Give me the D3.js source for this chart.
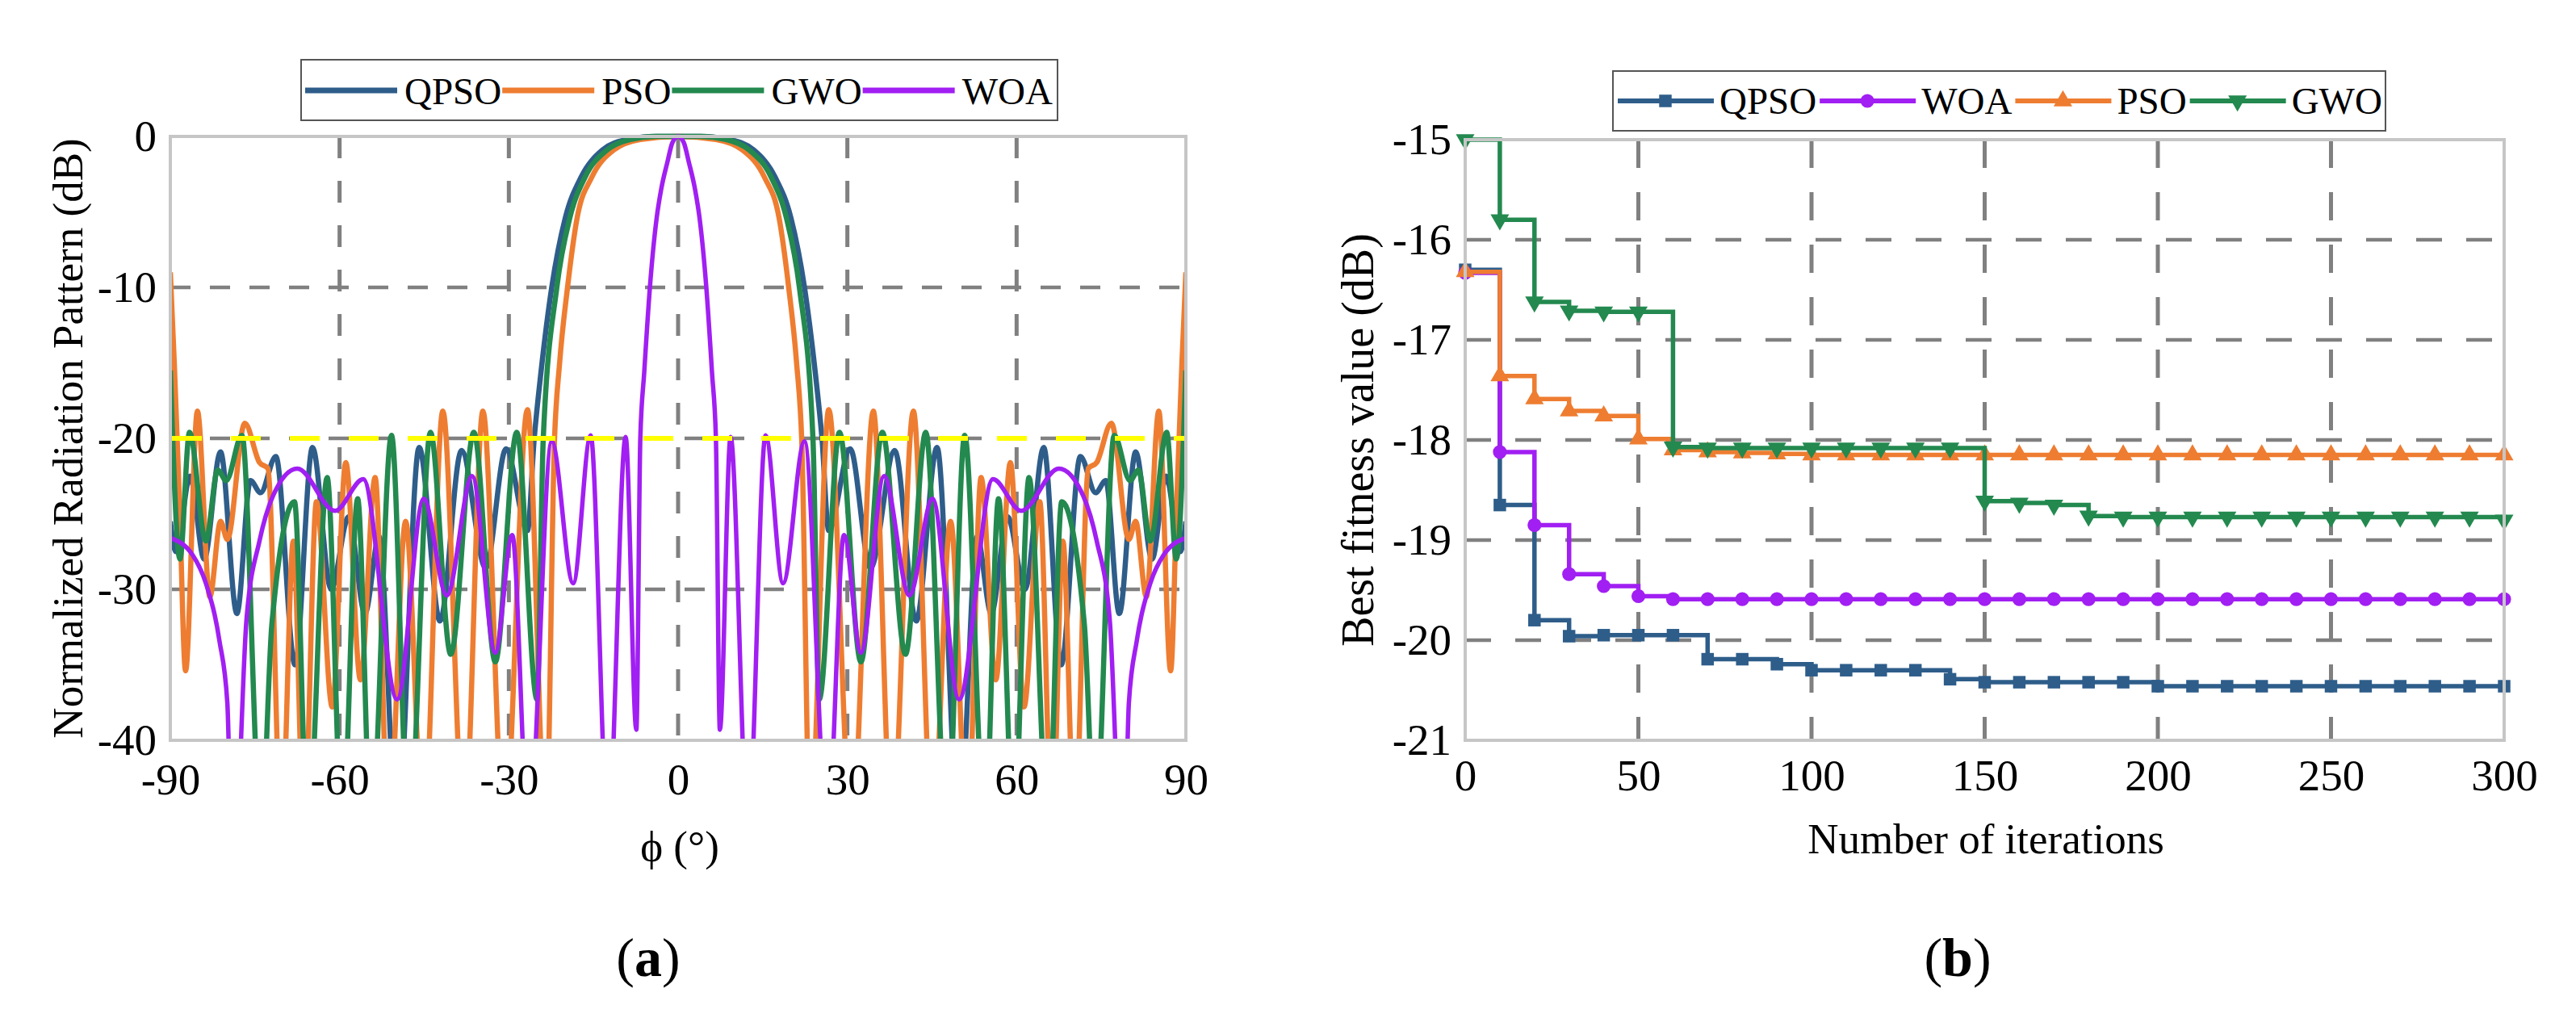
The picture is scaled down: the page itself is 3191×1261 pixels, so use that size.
<!DOCTYPE html>
<html>
<head>
<meta charset="utf-8">
<script src="https://cdn.jsdelivr.net/npm/d3@7"></script>
<style>
body { margin: 0; background: #fff; }
text { font-family: "Liberation Serif", "Times New Roman", serif; fill: #000; }
</style>
</head>
<body>
<div id="figure"></div>
<script>
// ---------- (a) normalized radiation pattern: [phi (deg), level (dB)] ----------
const patternQPSO = [[-90,-25.5],[-89,-27.5],[-86.5,-22.5],[-84,-28],[-81.1,-20.9],[-78.2,-31.6],[-75.8,-22.8],[-74,-23.6],[-71.3,-21.2],[-67.9,-35],[-64.8,-20.6],[-61.5,-30],[-58.4,-25.2],[-55.5,-31.6],[-53,-26.5],[-49.8,-46],[-45.9,-20.6],[-42.2,-32.1],[-38.4,-20.8],[-34.1,-28.6],[-30.5,-20.7],[-26.7,-26.1],[-25.5,-20],[-24.3,-15.6],[-22.4,-10],[-20,-5.4],[-17.2,-2.7],[-13.4,-0.9],[-9,-0.2],[-4,0],[0,0],
  [4,0],[9,-0.2],[13.4,-0.9],[17.2,-2.7],[20,-5.4],[22.4,-10],[24.3,-15.6],[25.5,-20],[26.7,-26.1],[30.5,-20.7],[34.1,-28.6],[38.4,-20.8],[42.2,-32.1],[45.9,-20.6],[49.8,-46],[53,-26.5],[55.5,-31.6],[58.4,-25.2],[61.5,-30],[64.8,-20.6],[67.9,-35],[71.3,-21.2],[74,-23.6],[75.8,-22.8],[78.2,-31.6],[81.1,-20.9],[84,-28],[86.5,-22.5],[89,-27.5],[90,-25.5]];
const patternPSO = [[-90,-9],[-89.3,-15],[-88.4,-24],[-87.3,-35.4],[-85.2,-18.2],[-83,-30.5],[-81.1,-25.5],[-79.9,-26.7],[-76.8,-19],[-74.2,-21.6],[-72.7,-22],[-70.3,-46],[-68.2,-26.8],[-66.3,-46],[-64.1,-24.2],[-61.3,-37.8],[-58.9,-21.6],[-56.3,-36],[-53.7,-22.6],[-51.3,-46],[-48.3,-25.5],[-45.1,-46],[-41.7,-18.2],[-37.9,-46],[-34.6,-18.2],[-30.8,-46],[-26.7,-18.1],[-23.4,-46],[-21.9,-20],[-21,-15],[-19.6,-10],[-17.9,-5.4],[-15.3,-2.7],[-11.4,-0.9],[-6.7,-0.2],[0,0],
  [6.7,-0.2],[11.4,-0.9],[15.3,-2.7],[17.9,-5.4],[19.6,-10],[21,-15],[21.9,-20],[23.4,-46],[26.7,-18.1],[30.8,-46],[34.6,-18.2],[37.9,-46],[41.7,-18.2],[45.1,-46],[48.3,-25.5],[51.3,-46],[53.7,-22.6],[56.3,-36],[58.9,-21.6],[61.3,-37.8],[64.1,-24.2],[66.3,-46],[68.2,-26.8],[70.3,-46],[72.7,-22],[74.2,-21.6],[76.8,-19],[79.9,-26.7],[81.1,-25.5],[83,-30.5],[85.2,-18.2],[87.3,-35.4],[88.4,-24],[89.3,-15],[90,-9]];
const patternGWO = [[-90,-15.5],[-88.3,-28],[-86.6,-19.6],[-83.7,-26.8],[-81.6,-22.1],[-80.1,-22.8],[-77.3,-19.8],[-73.9,-46],[-72,-32.3],[-68,-24.2],[-65.6,-46],[-62.2,-22.6],[-59.5,-46],[-56.8,-24],[-54.4,-46],[-50.8,-19.8],[-47.7,-46],[-43.9,-19.6],[-40.3,-34.3],[-36.2,-19.6],[-32.4,-34.8],[-28.6,-19.6],[-25,-37.3],[-23.9,-20],[-21.5,-10],[-19.2,-5.4],[-16.5,-2.7],[-12.6,-0.9],[-8.5,-0.2],[-4,0],[0,0],
  [4,0],[8.5,-0.2],[12.6,-0.9],[16.5,-2.7],[19.2,-5.4],[21.5,-10],[23.9,-20],[25,-37.3],[28.6,-19.6],[32.4,-34.8],[36.2,-19.6],[40.3,-34.3],[43.9,-19.6],[47.7,-46],[50.8,-19.8],[54.4,-46],[56.8,-24],[59.5,-46],[62.2,-22.6],[65.6,-46],[68,-24.2],[72,-32.3],[73.9,-46],[77.3,-19.8],[80.1,-22.8],[81.6,-22.1],[83.7,-26.8],[86.6,-19.6],[88.3,-28],[90,-15.5]];
const patternWOA = [[-90,-26.6],[-86.1,-27.7],[-83.7,-29.6],[-81.3,-33.4],[-79.9,-37.5],[-78.9,-50],[-76.5,-32],[-74.2,-26.8],[-71.8,-23.8],[-67.5,-22],[-60.8,-24.8],[-55.8,-22.7],[-49.8,-37.3],[-45.1,-24],[-41,-30.4],[-36.5,-22.5],[-32.4,-34.2],[-29.4,-26.4],[-26.5,-46],[-22.4,-20.2],[-18.6,-29.6],[-15.5,-19.8],[-12.4,-46],[-9.3,-19.9],[-7.4,-39.3],[-6.7,-20],[-6,-15.6],[-5,-10],[-3.8,-5.4],[-3,-3.5],[-1.9,-1.7],[-1,-0.4],[0,0],
  [1,-0.4],[1.9,-1.7],[3,-3.5],[3.8,-5.4],[5,-10],[6,-15.6],[6.7,-20],[7.4,-39.3],[9.3,-19.9],[12.4,-46],[15.5,-19.8],[18.6,-29.6],[22.4,-20.2],[26.5,-46],[29.4,-26.4],[32.4,-34.2],[36.5,-22.5],[41,-30.4],[45.1,-24],[49.8,-37.3],[55.8,-22.7],[60.8,-24.8],[67.5,-22],[71.8,-23.8],[74.2,-26.8],[76.5,-32],[78.9,-50],[79.9,-37.5],[81.3,-33.4],[83.7,-29.6],[86.1,-27.7],[90,-26.6]];
const sidelobeTarget = -20;
const phiTicks = [-90, -60, -30, 0, 30, 60, 90];
const levelTicks = [0, -10, -20, -30, -40];

// ---------- (b) convergence curves ----------
const iterations = [0,10,20,30,40,50,60,70,80,90,100,110,120,130,140,150,160,170,180,190,200,210,220,230,240,250,260,270,280,290,300];
const fitQPSO = [-16.30,-18.65,-19.80,-19.96,-19.95,-19.95,-19.95,-20.19,-20.19,-20.24,-20.30,-20.30,-20.30,-20.30,-20.39,-20.42,-20.42,-20.42,-20.42,-20.42,-20.46,-20.46,-20.46,-20.46,-20.46,-20.46,-20.46,-20.46,-20.46,-20.46,-20.46];
const fitWOA = [-16.33,-18.12,-18.85,-19.34,-19.46,-19.56,-19.59,-19.59,-19.59,-19.59,-19.59,-19.59,-19.59,-19.59,-19.59,-19.59,-19.59,-19.59,-19.59,-19.59,-19.59,-19.59,-19.59,-19.59,-19.59,-19.59,-19.59,-19.59,-19.59,-19.59,-19.59];
const fitPSO = [-16.32,-17.36,-17.59,-17.71,-17.76,-17.99,-18.10,-18.12,-18.13,-18.14,-18.15,-18.15,-18.15,-18.15,-18.15,-18.15,-18.15,-18.15,-18.15,-18.15,-18.15,-18.15,-18.15,-18.15,-18.15,-18.15,-18.15,-18.15,-18.15,-18.15,-18.15];
const fitGWO = [-15.00,-15.80,-16.62,-16.71,-16.72,-16.72,-18.07,-18.08,-18.08,-18.08,-18.08,-18.08,-18.08,-18.08,-18.08,-18.61,-18.63,-18.65,-18.76,-18.77,-18.77,-18.77,-18.77,-18.77,-18.77,-18.77,-18.77,-18.77,-18.77,-18.77,-18.80];
const iterTicks = [0, 50, 100, 150, 200, 250, 300];
const fitTicks = [-15, -16, -17, -18, -19, -20, -21];

// ---------- shared styles ----------
const width = 3191, height = 1261;
const colQPSO = "#2e5d8a", colPSO = "#ee7d31", colGWO = "#23894f", colWOA = "#a11ff2";
const gridColor = "#808080", frameColor = "#c6c6c6";
const serif = "'Liberation Serif', 'Times New Roman', serif";
const tickFont = 55;
const plainNumber = d => String(d); //hyphen minus, no decimals, like the original

const svg = d3.select("#figure")
  .append("svg")
  .attr("width", width)
  .attr("height", height)
  .attr("viewBox", `0 0 ${width} ${height}`);
svg.append("rect").attr("width", width).attr("height", height).attr("fill", "#fff");

//tick labels: serif, black, no tick marks or domain
const styleAxis = a => {
  a.attr("font-family", null).attr("font-size", null);
  a.select(".domain").remove();
  a.selectAll(".tick text")
    .style("font-family", serif)
    .style("font-size", `${tickFont}px`)
    .attr("fill", "#000");
};

// ================= chart (a) =================
const drawPattern = () => {
  const left = 211, top = 169, innerWidth = 1258, innerHeight = 748;
  const xScale = d3.scaleLinear().domain([-90, 90]).range([0, innerWidth]);
  const yScale = d3.scaleLinear().domain([-40, 0]).range([innerHeight, 0]);

  const g = svg.append("g").attr("transform", `translate(${left}, ${top})`);

  //dashed grid inside the frame
  g.selectAll(".vgrid")
    .data(phiTicks.filter(d => d > -90 && d < 90))
    .join("line")
      .attr("x1", d => xScale(d)).attr("x2", d => xScale(d))
      .attr("y1", 0).attr("y2", innerHeight)
      .attr("stroke", gridColor).attr("stroke-width", 5)
      .attr("stroke-dasharray", "27,28");
  g.selectAll(".hgrid")
    .data(levelTicks.filter(d => d < 0 && d > -40))
    .join("line")
      .attr("x1", 0).attr("x2", innerWidth)
      .attr("y1", d => yScale(d)).attr("y2", d => yScale(d))
      .attr("stroke", gridColor).attr("stroke-width", 4.5)
      .attr("stroke-dasharray", "25,24");

  //clip the curves to the plot area (nulls run below -40 dB)
  svg.append("clipPath").attr("id", "clipA")
    .append("rect").attr("x", 0).attr("y", -6).attr("width", innerWidth).attr("height", innerHeight + 6);

  const line = d3.line()
    .x(d => xScale(d[0]))
    .y(d => yScale(d[1]))
    .curve(d3.curveMonotoneX);

  const series = [
    {name: "QPSO", data: patternQPSO, color: colQPSO, w: 6.5},
    {name: "PSO", data: patternPSO, color: colPSO, w: 6.5},
    {name: "GWO", data: patternGWO, color: colGWO, w: 6.5},
    {name: "WOA", data: patternWOA, color: colWOA, w: 5.5}
  ];
  g.append("g").attr("clip-path", "url(#clipA)")
    .selectAll("path")
    .data(series)
    .join("path")
      .attr("d", d => line(d.data))
      .attr("fill", "none")
      .attr("stroke", d => d.color)
      .attr("stroke-width", d => d.w)
      .attr("stroke-linejoin", "round");

  //target sidelobe level
  g.append("line")
    .attr("x1", xScale(-90) + 2).attr("x2", xScale(90))
    .attr("y1", yScale(sidelobeTarget)).attr("y2", yScale(sidelobeTarget))
    .attr("stroke", "#ffff00").attr("stroke-width", 6)
    .attr("stroke-dasharray", "37,36");

  //frame
  g.append("rect")
    .attr("width", innerWidth).attr("height", innerHeight)
    .attr("fill", "none").attr("stroke", frameColor).attr("stroke-width", 4);

  //axes (labels only)
  const bottomAxis = d3.axisBottom(xScale).tickValues(phiTicks).tickFormat(plainNumber).tickSize(0).tickPadding(28);
  g.append("g")
    .attr("transform", `translate(0, ${innerHeight})`)
    .call(bottomAxis)
    .call(styleAxis);
  const leftAxis = d3.axisLeft(yScale).tickValues(levelTicks).tickFormat(plainNumber).tickSize(0).tickPadding(17);
  g.append("g")
    .call(leftAxis)
    .call(styleAxis);

  //axis labels
  svg.append("text")
    .text("ϕ (°)")
    .attr("x", 842).attr("y", 1066)
    .attr("text-anchor", "middle")
    .attr("font-size", 53);
  svg.append("text")
    .text("Normalized Radiation Pattern (dB)")
    .attr("transform", "translate(102, 543) rotate(-90)")
    .attr("text-anchor", "middle")
    .attr("font-size", 53);

  //legend
  const legend = svg.append("g");
  legend.append("rect")
    .attr("x", 373).attr("y", 74).attr("width", 937).attr("height", 75)
    .attr("fill", "#fff").attr("stroke", "#555").attr("stroke-width", 2);
  let cursor = 378;
  series.forEach(s => {
    legend.append("line")
      .attr("x1", cursor).attr("x2", cursor + 114)
      .attr("y1", 112).attr("y2", 112)
      .attr("stroke", s.color).attr("stroke-width", 7);
    const t = legend.append("text")
      .text(s.name)
      .attr("x", cursor + 123).attr("y", 129)
      .attr("font-size", 47);
    cursor = cursor + 123 + t.node().getComputedTextLength() + 1;
  });

  //panel caption
  svg.append("text")
    .attr("x", 803).attr("y", 1209)
    .attr("text-anchor", "middle")
    .attr("font-size", 68)
    .call(t => {
      t.append("tspan").text("(");
      t.append("tspan").text("a").attr("font-weight", "bold");
      t.append("tspan").text(")");
    });
};

// ================= chart (b) =================
const drawConvergence = () => {
  const left = 1815, top = 173, innerWidth = 1287, innerHeight = 744;
  const xScale = d3.scaleLinear().domain([0, 300]).range([0, innerWidth]);
  const yScale = d3.scaleLinear().domain([-21, -15]).range([innerHeight, 0]);

  const g = svg.append("g").attr("transform", `translate(${left}, ${top})`);

  g.selectAll(".vgrid")
    .data(iterTicks.filter(d => d > 0 && d < 300))
    .join("line")
      .attr("x1", d => xScale(d)).attr("x2", d => xScale(d))
      .attr("y1", 0).attr("y2", innerHeight)
      .attr("stroke", gridColor).attr("stroke-width", 5)
      .attr("stroke-dasharray", "35,30");
  g.selectAll(".hgrid")
    .data(fitTicks.filter(d => d < -15 && d > -21))
    .join("line")
      .attr("x1", 0).attr("x2", innerWidth)
      .attr("y1", d => yScale(d)).attr("y2", d => yScale(d))
      .attr("stroke", gridColor).attr("stroke-width", 4.5)
      .attr("stroke-dasharray", "32,30");

  const series = [
    {name: "QPSO", values: fitQPSO, color: colQPSO, symbol: d3.symbolSquare, size: 240, rot: 0},
    {name: "WOA", values: fitWOA, color: colWOA, symbol: d3.symbolCircle, size: 230, rot: 0},
    {name: "PSO", values: fitPSO, color: colPSO, symbol: d3.symbolTriangle, size: 230, rot: 0},
    {name: "GWO", values: fitGWO, color: colGWO, symbol: d3.symbolTriangle, size: 230, rot: 180}
  ];

  const line = d3.line()
    .x((d, i) => xScale(iterations[i]))
    .y(d => yScale(d))
    .curve(d3.curveStepAfter);

  series.forEach(s => {
    const sg = g.append("g");
    sg.append("path")
      .attr("d", line(s.values))
      .attr("fill", "none")
      .attr("stroke", s.color)
      .attr("stroke-width", 5.5);
    sg.selectAll("path.marker")
      .data(s.values)
      .join("path")
        .attr("class", "marker")
        .attr("d", d3.symbol().type(s.symbol).size(s.size))
        .attr("transform", (d, i) => `translate(${xScale(iterations[i])}, ${yScale(d)}) rotate(${s.rot})`)
        .attr("fill", s.color);
  });

  g.append("rect")
    .attr("width", innerWidth).attr("height", innerHeight)
    .attr("fill", "none").attr("stroke", frameColor).attr("stroke-width", 4);

  const bottomAxis = d3.axisBottom(xScale).tickValues(iterTicks).tickFormat(plainNumber).tickSize(0).tickPadding(23);
  g.append("g")
    .attr("transform", `translate(0, ${innerHeight})`)
    .call(bottomAxis)
    .call(styleAxis);
  const leftAxis = d3.axisLeft(yScale).tickValues(fitTicks).tickFormat(plainNumber).tickSize(0).tickPadding(17);
  g.append("g")
    .call(leftAxis)
    .call(styleAxis);

  svg.append("text")
    .text("Number of iterations")
    .attr("x", 2460).attr("y", 1057)
    .attr("text-anchor", "middle")
    .attr("font-size", 53);
  svg.append("text")
    .text("Best fitness value (dB)")
    .attr("transform", "translate(1701, 545) rotate(-90)")
    .attr("text-anchor", "middle")
    .attr("font-size", 56);

  //legend with line + marker samples
  const legend = svg.append("g");
  legend.append("rect")
    .attr("x", 1998).attr("y", 88).attr("width", 957).attr("height", 74)
    .attr("fill", "#fff").attr("stroke", "#555").attr("stroke-width", 2);
  let cursor = 2004;
  series.forEach(s => {
    legend.append("line")
      .attr("x1", cursor).attr("x2", cursor + 119)
      .attr("y1", 125).attr("y2", 125)
      .attr("stroke", s.color).attr("stroke-width", 6);
    legend.append("path")
      .attr("d", d3.symbol().type(s.symbol).size(s.size))
      .attr("transform", `translate(${cursor + 59}, 125) rotate(${s.rot})`)
      .attr("fill", s.color);
    const t = legend.append("text")
      .text(s.name)
      .attr("x", cursor + 126).attr("y", 141)
      .attr("font-size", 47);
    cursor = cursor + 126 + t.node().getComputedTextLength() + 4;
  });

  svg.append("text")
    .attr("x", 2425).attr("y", 1209)
    .attr("text-anchor", "middle")
    .attr("font-size", 68)
    .call(t => {
      t.append("tspan").text("(");
      t.append("tspan").text("b").attr("font-weight", "bold");
      t.append("tspan").text(")");
    });
};

drawPattern();
drawConvergence();
</script>
</body>
</html>
